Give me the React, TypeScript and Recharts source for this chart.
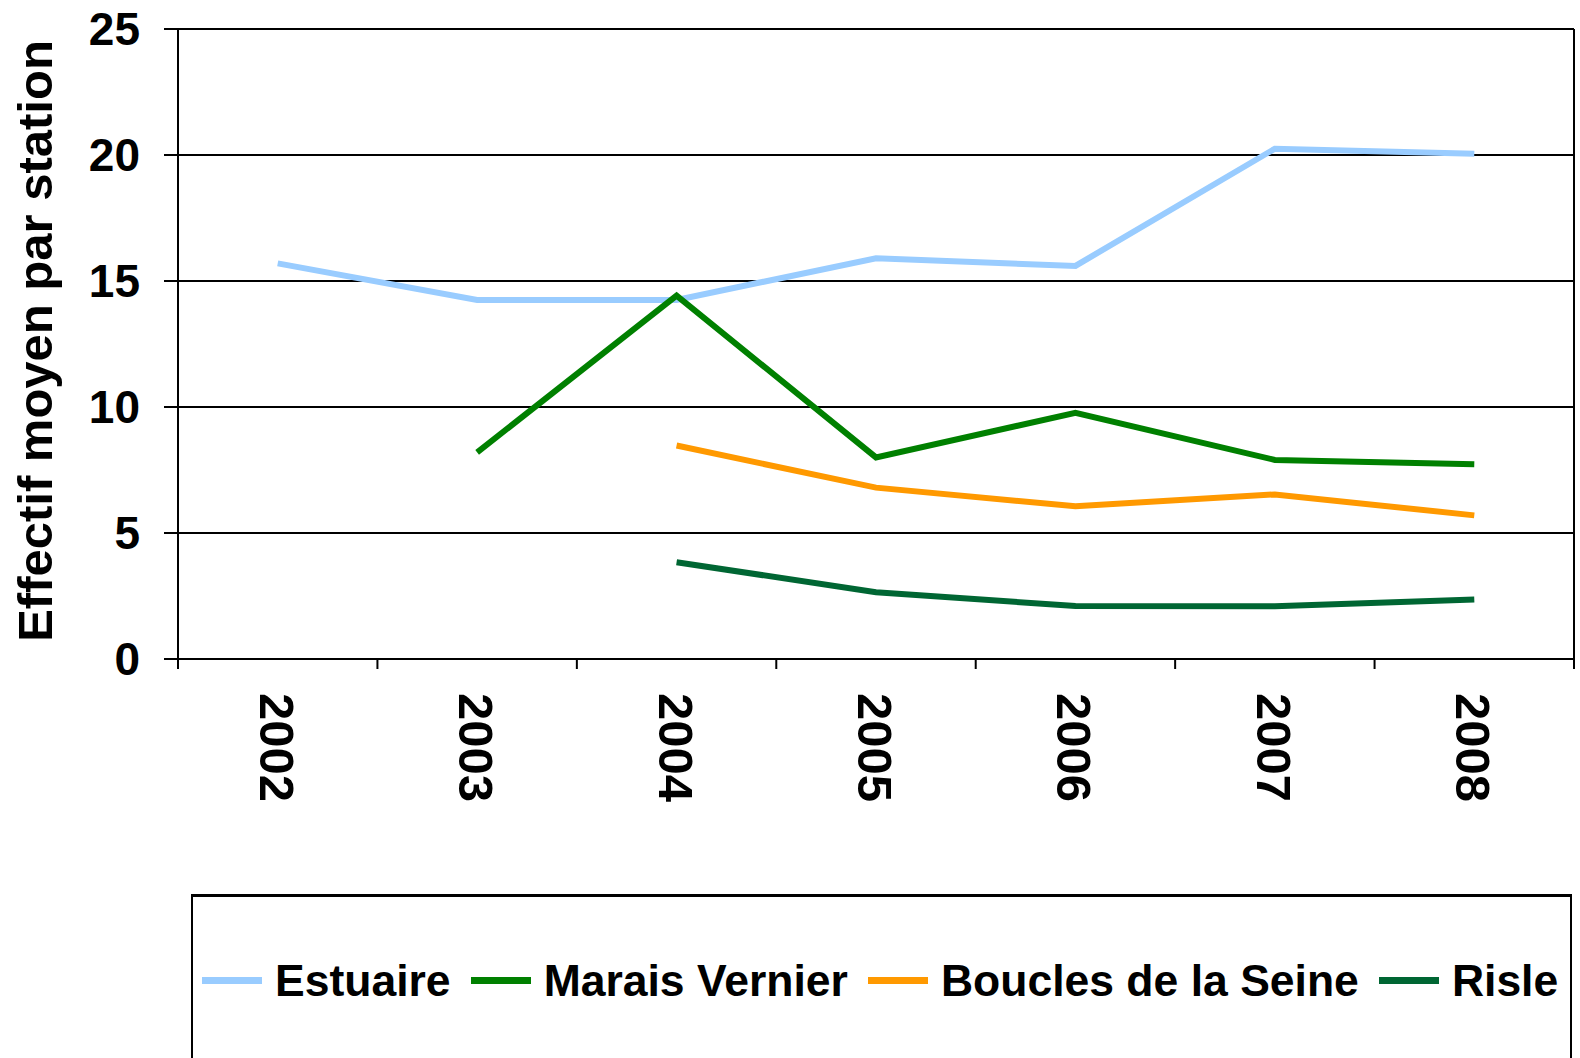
import { LineChart, Line, XAxis, YAxis, CartesianGrid, Legend } from 'recharts';

const years = ['2002', '2003', '2004', '2005', '2006', '2007', '2008'];
const estuaire = [15.7, 14.25, 14.25, 15.9, 15.6, 20.25, 20.05];
const maraisVernier = [null, 8.2, 14.42, 8.0, 9.77, 7.9, 7.73];
const bouclesSeine = [null, null, 8.47, 6.8, 6.06, 6.53, 5.7];
const risle = [null, null, 3.84, 2.65, 2.1, 2.09, 2.36];
const yTicks = [0, 5, 10, 15, 20, 25];

const series = [
  { key: 'estuaire', name: 'Estuaire', color: '#99CCFF' },
  { key: 'marais', name: 'Marais Vernier', color: '#008000' },
  { key: 'boucles', name: 'Boucles de la Seine', color: '#FF9900' },
  { key: 'risle', name: 'Risle', color: '#006633' },
];

const data = years.map((year, i) => ({
  year,
  estuaire: estuaire[i],
  marais: maraisVernier[i],
  boucles: bouclesSeine[i],
  risle: risle[i],
}));

const FONT = '"Liberation Sans", Arial, sans-serif';

// year labels read top to bottom, with boundary tick marks between categories
function YearTick(props: any) {
  const { x, y, payload, index } = props;
  const off = payload?.offset ?? 99.7;
  const bx = x - 18;
  const by = y + 24;
  return (
    <g>
      <line x1={x - off} x2={x - off} y1={y - 10} y2={y} stroke="#000" strokeWidth={2} />
      {index === years.length - 1 && (
        <line x1={x + off} x2={x + off} y1={y - 10} y2={y} stroke="#000" strokeWidth={2} />
      )}
      <text
        x={bx}
        y={by}
        transform={`rotate(90, ${bx}, ${by})`}
        textAnchor="start"
        fontFamily={FONT}
        fontWeight="bold"
        fontSize={49}
        fill="#000"
      >
        {payload.value}
      </text>
    </g>
  );
}

function YLabel(props: any) {
  const { viewBox } = props;
  const cy = viewBox.y + viewBox.height / 2 - 3;
  return (
    <text
      x={52}
      y={cy}
      transform={`rotate(-90, 52, ${cy})`}
      textAnchor="middle"
      fontFamily={FONT}
      fontWeight="bold"
      fontSize={49}
      fill="#000"
    >
      Effectif moyen par station
    </text>
  );
}

function LegendBox() {
  return (
    <div
      style={{
        boxSizing: 'border-box',
        width: 1381,
        height: 172,
        border: '2px solid #000',
        borderTopWidth: 3,
        display: 'flex',
        alignItems: 'center',
        paddingLeft: 9,
        fontFamily: FONT,
        fontWeight: 'bold',
        fontSize: 44.5,
        color: '#000',
        whiteSpace: 'nowrap',
      }}
    >
      {series.map((s) => (
        <div key={s.key} style={{ display: 'flex', alignItems: 'center', marginRight: 20 }}>
          <span style={{ display: 'inline-block', width: 60, height: 7, background: s.color, marginRight: 13 }} />
          <span>{s.name}</span>
        </div>
      ))}
    </div>
  );
}

export default function App() {
  return (
    <div style={{ position: 'absolute', left: 0, top: 0, width: 1580, height: 1058, overflow: 'hidden', background: '#fff' }}>
      <LineChart width={1580} height={1058} data={data} margin={{ top: 29, right: 0, left: 0, bottom: 159 }}>
        <CartesianGrid vertical={false} stroke="#000" strokeWidth={2} strokeOpacity={1} />
        <XAxis
          dataKey="year"
          scale="band"
          height={240}
          axisLine={{ stroke: '#000', strokeWidth: 2 }}
          tickLine={false}
          tickSize={10}
          tickMargin={0}
          interval={0}
          tick={<YearTick />}
        />
        <YAxis
          domain={[0, 25]}
          ticks={yTicks}
          width={178}
          axisLine={{ stroke: '#000', strokeWidth: 2 }}
          tickLine={{ stroke: '#000', strokeWidth: 2 }}
          tickSize={14}
          tickMargin={24}
          tick={{ fill: '#000', fontSize: 46, fontWeight: 'bold', fontFamily: FONT }}
          label={<YLabel />}
        />
        <YAxis yAxisId="r" orientation="right" width={6} tick={false} tickLine={false} axisLine={{ stroke: '#000', strokeWidth: 2 }} />
        <Legend
          layout="horizontal"
          verticalAlign="middle"
          align="center"
          content={() => <LegendBox />}
          wrapperStyle={{ position: 'absolute', left: 191, top: 894, width: 1381, height: 172 }}
        />
        {series.map((s) => (
          <Line
            key={s.key}
            type="linear"
            dataKey={s.key}
            name={s.name}
            stroke={s.color}
            strokeWidth={6}
            dot={false}
            activeDot={false}
            connectNulls={false}
            isAnimationActive={false}
          />
        ))}
      </LineChart>
    </div>
  );
}
